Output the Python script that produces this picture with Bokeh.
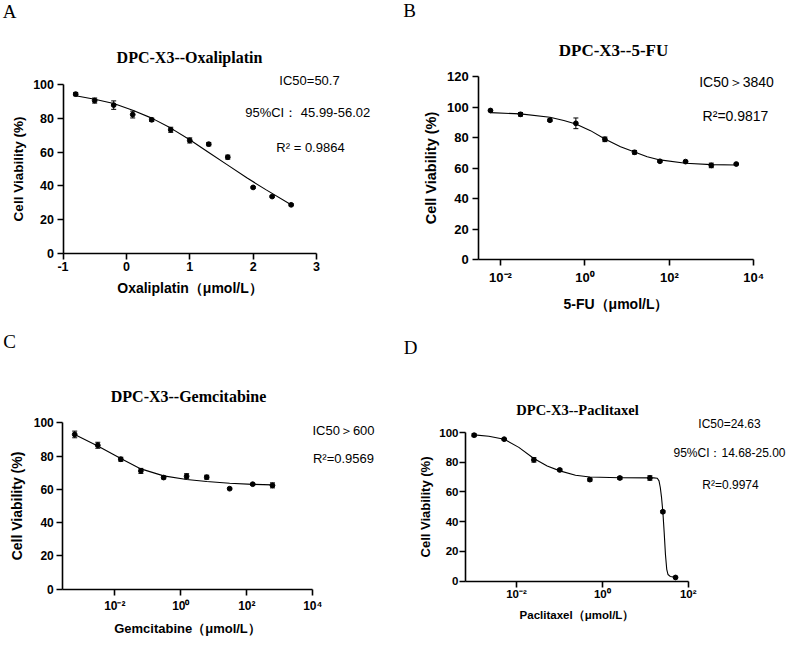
import math
from bokeh.plotting import figure
from bokeh.models import (Range1d, FixedTicker, CustomJSTickFormatter, Label,
                          Whisker, TeeHead, ColumnDataSource, LinearAxis, LogAxis)
from bokeh.layouts import row, column
from bokeh.embed import file_html
from bokeh.resources import INLINE

# ---------------- data ----------------
# A: Oxaliplatin, x axis in log10(umol/L)
oxa_logc = [-0.8, -0.5, -0.2, 0.1, 0.4, 0.7, 1.0, 1.3, 1.6, 2.0, 2.3, 2.6]
oxa_via = [94.3, 90.5, 87.8, 82.2, 79.1, 73.2, 66.9, 64.7, 57.0, 39.1, 33.7, 28.8]
oxa_sd = [1.0, 1.5, 2.5, 2.0, 1.0, 1.5, 1.5, 1.0, 1.2, 0.5, 0.5, 0.6]
oxa_fit_logc = [-0.8, -0.5, -0.2, 0.1, 0.4, 0.7, 1.0, 1.3, 1.6, 1.9, 2.2, 2.6]
oxa_fit_via = [93.3, 91.3, 88.8, 84.8, 80.1, 74.2, 67.3, 59.8, 52.3, 44.8, 37.8, 28.8]

# B: 5-FU
fu_conc = [0.00579, 0.0298, 0.148, 0.61, 2.97, 14.96, 59.7, 242, 984, 3840]
fu_via = [97.7, 95.2, 91.3, 89.3, 78.8, 70.3, 64.4, 64.2, 61.7, 62.6]
fu_sd = [0.5, 1.2, 0.8, 3.5, 1.5, 1.2, 0.6, 0.5, 1.5, 0.5]
fu_fit_logc = [-2.237, -1.526, -0.83, -0.5, -0.215, 0.132, 0.472, 0.843, 1.175,
               1.475, 1.776, 2.384, 2.993, 3.584]
fu_fit_via = [96.3, 95.5, 93.3, 91.1, 88.9, 84.5, 79.0, 74.0, 70.5, 67.4, 65.3,
              63.1, 62.2, 62.0]

# C: Gemcitabine
gem_conc = [0.00061, 0.00305, 0.0152, 0.0617, 0.302, 1.50, 6.10, 30.2, 151, 600]
gem_via = [93.0, 86.5, 78.1, 71.1, 67.1, 67.9, 67.3, 60.4, 63.1, 62.4]
gem_sd = [2.0, 1.8, 1.2, 1.5, 0.8, 1.5, 1.2, 0.5, 0.5, 1.5]
gem_fit_logc = [-3.215, -2.516, -1.818, -1.21, -0.52, 0.177, 0.785, 1.48, 2.18, 2.778]
gem_fit_via = [93.0, 86.1, 78.5, 72.3, 68.1, 65.9, 64.7, 63.7, 63.0, 62.7]

# D: Paclitaxel
pac_conc = [0.00103, 0.00516, 0.0254, 0.102, 0.512, 2.56, 12.8, 25.7, 50.7]
pac_via = [98.2, 95.5, 81.6, 74.8, 68.3, 69.4, 69.4, 46.7, 2.5]
pac_sd = [1.0, 0.6, 1.5, 0.8, 1.0, 1.0, 1.5, 0.8, 0.5]
pac_fit_logc = [-2.986, -2.645, -2.287, -1.946, -1.596, -1.285, -0.99, -0.625, -0.291,
                0.408, 1.107, 1.20, 1.28, 1.32, 1.35, 1.38, 1.41, 1.44, 1.47, 1.50,
                1.53, 1.58, 1.705]
pac_fit_via = [98.4, 97.5, 95.5, 90.0, 82.5, 77.5, 74.2, 71.2, 70.1, 69.6, 69.5, 69.5,
               69.2, 67.5, 63.0, 56.0, 46.5, 33.0, 18.0, 8.0, 4.5, 3.2, 2.7]

lin_ticks_a = [-1, 0, 1, 2, 3]
y_ticks_100 = [0, 20, 40, 60, 80, 100]
y_ticks_120 = [0, 20, 40, 60, 80, 100, 120]
log_ticks_4 = [0.01, 1, 100, 10000]
log_ticks_2 = [0.01, 1, 100]

SANS = "Liberation Sans"
SERIF = "Liberation Serif"

SUP_JS = """
const e = Math.round(Math.log10(tick));
const sup = {'-':'\u207b','0':'\u2070','1':'\u00b9','2':'\u00b2','3':'\u00b3','4':'\u2074'};
return '10' + String(e).split('').map(c => sup[c]).join('');
"""
PLAIN_JS = "return String(Math.round(tick));"


class Panel:
    """A figure whose frame fills the whole canvas; axes are placed at fixed
    data locations so that all texts can live inside the frame."""

    def __init__(self, origin, size, xmap, ymap, xlog, xbounds, ybounds):
        self.ox, self.oy = origin
        self.w, self.h = size
        (self.px1, self.xv1), (px2, xv2) = xmap
        (self.py1, self.yv1), (py2, yv2) = ymap
        self.kx = (xv2 - self.xv1) / (px2 - self.px1)
        self.ky = (yv2 - self.yv1) / (py2 - self.py1)
        self.xlog = xlog
        xs = self.xv1 + (self.ox - self.px1) * self.kx
        xe = self.xv1 + (self.ox + self.w - self.px1) * self.kx
        yt = self.yv1 + (self.oy - self.py1) * self.ky
        yb = self.yv1 + (self.oy + self.h - self.py1) * self.ky
        conv = (lambda v: 10 ** v) if xlog else (lambda v: v)
        self.conv = conv
        p = figure(width=self.w, height=self.h,
                   x_range=Range1d(conv(xs), conv(xe)), y_range=Range1d(yb, yt),
                   x_axis_type="log" if xlog else "linear",
                   x_axis_location=None, y_axis_location=None,
                   output_backend="svg", toolbar_location=None, min_border=0)
        p.outline_line_color = None
        p.grid.visible = False
        p.background_fill_color = "white"
        p.border_fill_color = "white"
        self.p = p
        self.xbounds = (conv(xbounds[0]), conv(xbounds[1]))
        self.ybounds = ybounds

    def data(self, px, py):
        x = self.conv(self.xv1 + (px - self.px1) * self.kx)
        y = self.yv1 + (py - self.py1) * self.ky
        return x, y

    def label(self, px, py, text, font=SANS, size="13px", style="normal"):
        x, y = self.data(px, py)
        self.p.add_layout(Label(x=x, y=y, text=text, text_align="center",
                                text_baseline="middle", text_font=font,
                                text_font_size=size, text_font_style=style,
                                text_color="black"))

    def axes(self, xticks, yticks, tick_size, xlab, ylab, xlab_size, ylab_size,
             xstand, xlabstand, ystand, ylabstand):
        p = self.p
        xa = (LogAxis if self.xlog else LinearAxis)(
            fixed_location=self.ybounds[0], bounds=self.xbounds)
        ya = LinearAxis(fixed_location=self.xbounds[0], bounds=self.ybounds)
        for ax in (xa, ya):
            ax.axis_line_width = 1.6
            ax.axis_line_color = "black"
            ax.major_tick_line_width = 1.6
            ax.major_tick_line_color = "black"
            ax.major_tick_out = 6
            ax.major_tick_in = 0
            ax.minor_tick_line_color = None
            ax.major_label_text_font = SANS
            ax.major_label_text_font_style = "bold"
            ax.major_label_text_font_size = tick_size
            ax.major_label_text_color = "black"
            ax.axis_label_text_font = SANS
            ax.axis_label_text_font_style = "bold"
            ax.axis_label_text_color = "black"
        xa.ticker = FixedTicker(ticks=xticks)
        ya.ticker = FixedTicker(ticks=yticks)
        xa.formatter = CustomJSTickFormatter(code=SUP_JS if self.xlog else PLAIN_JS)
        ya.formatter = CustomJSTickFormatter(code=PLAIN_JS)
        xa.axis_label = xlab
        ya.axis_label = ylab
        xa.axis_label_text_font_size = xlab_size
        ya.axis_label_text_font_size = ylab_size
        xa.major_label_standoff = xstand
        xa.axis_label_standoff = xlabstand
        ya.major_label_standoff = ystand
        ya.axis_label_standoff = ylabstand
        p.add_layout(xa, "below")
        p.add_layout(ya, "left")

    def series(self, x, y, sd, fx, fy):
        p = self.p
        src = ColumnDataSource(dict(x=x, y=y,
                                    upper=[a + b for a, b in zip(y, sd)],
                                    lower=[a - b for a, b in zip(y, sd)]))
        p.line(fx, fy, line_color="black", line_width=1.1)
        p.add_layout(Whisker(source=src, base="x", upper="upper", lower="lower",
                             dimension="height", line_color="black", line_width=1,
                             upper_head=TeeHead(size=5, line_color="black", line_width=1),
                             lower_head=TeeHead(size=5, line_color="black", line_width=1)))
        p.scatter("x", "y", source=src, size=4.8, color="black")


# ---------------- Panel A ----------------
A = Panel((0, 0), (400, 326), ((62.5, -1), (316, 3)), ((253, 0), (84, 100)),
          False, (-1, 3), (0, 100))
A.axes(lin_ticks_a, y_ticks_100, "12.5px", "Oxaliplatin\uff08\u03bcmol/L\uff09",
       "Cell Viability (%)", "14px", "13.5px", 2, 6, 3, 5)
A.series(oxa_logc, oxa_via, oxa_sd, oxa_fit_logc, oxa_fit_via)
A.label(9, 11, "A", SERIF, "19px")
A.label(189, 57, "DPC-X3--Oxaliplatin", SERIF, "16px", "bold")
A.label(309, 80, "IC50=50.7", SANS, "13px")
A.label(309, 112, "95%CI\uff1a  45.99-56.02", SANS, "13px")
A.label(310, 147, "R\u00b2 = 0.9864", SANS, "13px")

# ---------------- Panel B ----------------
B = Panel((400, 0), (396, 326), ((500, -2), (753.3, 4)), ((259, 0), (76, 120)),
          True, (-2.514, 4), (0, 120))
B.axes(log_ticks_4, y_ticks_120, "13px", "5-FU\uff08\u03bcmol/L\uff09",
       "Cell Viability (%)", "14px", "14.5px", 4, 8, 4, 5)
B.series(fu_conc, fu_via, fu_sd, [10 ** v for v in fu_fit_logc], fu_fit_via)
B.label(409, 10, "B", SERIF, "19px")
B.label(613, 50, "DPC-X3--5-FU", SERIF, "17px", "bold")
B.label(736, 81, "IC50\uff1e3840", SANS, "14px")
B.label(735, 115, "R\u00b2=0.9817", SANS, "14px")

# ---------------- Panel C ----------------
C = Panel((0, 326), (400, 318), ((114.3, -2), (312.3, 4)), ((588.7, 0), (422.3, 100)),
          True, (-3.576, 4), (0, 100))
C.axes(log_ticks_4, y_ticks_100, "12px", "Gemcitabine\uff08\u03bcmol/L\uff09",
       "Cell Viability (%)", "13px", "14px", 4, 4, 3, 5)
C.series(gem_conc, gem_via, gem_sd, [10 ** v for v in gem_fit_logc], gem_fit_via)
C.label(9, 341, "C", SERIF, "19px")
C.label(188, 396, "DPC-X3--Gemcitabine", SERIF, "16px", "bold")
C.label(343, 430, "IC50\uff1e600", SANS, "13px")
C.label(343, 458, "R\u00b2=0.9569", SANS, "13px")

# ---------------- Panel D ----------------
D = Panel((400, 326), (396, 318), ((516, -2), (687.7, 2)), ((580.7, 0), (432, 100)),
          True, (-3.188, 2), (0, 100))
D.axes(log_ticks_2, y_ticks_100, "11.5px", "Paclitaxel\uff08\u03bcmol/L\uff09",
       "Cell Viability (%)", "11.5px", "13px", 1, 5, 1, 3)
D.series(pac_conc, pac_via, pac_sd, [10 ** v for v in pac_fit_logc], pac_fit_via)
D.label(410, 347, "D", SERIF, "19px")
D.label(577, 409, "DPC-X3--Paclitaxel", SERIF, "14.5px", "bold")
D.label(729, 423, "IC50=24.63", SANS, "12px")
D.label(729, 452, "95%CI\uff1a14.68-25.00", SANS, "12px")
D.label(730, 484, "R\u00b2=0.9974", SANS, "12px")

layout = column(row(A.p, B.p), row(C.p, D.p))
open("out.html", "w").write(file_html(layout, INLINE))
